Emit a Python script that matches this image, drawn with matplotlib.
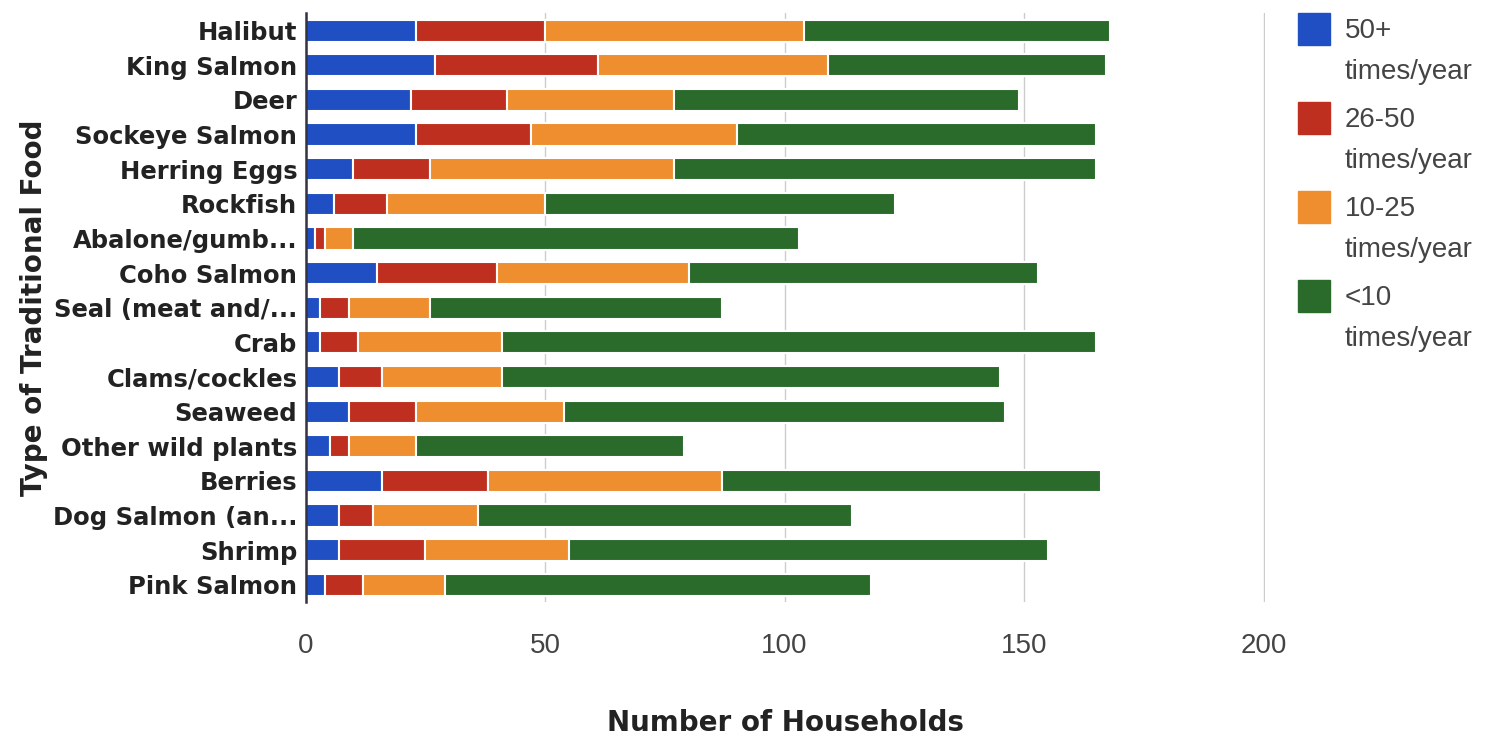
import matplotlib
matplotlib.use("Agg")
from matplotlib import pyplot as plt
from matplotlib.patches import Rectangle
import numpy as np

foods = ["Halibut", "King Salmon", "Deer", "Sockeye Salmon", "Herring Eggs", "Rockfish",
         "Abalone/gumb...", "Coho Salmon", "Seal (meat and/...", "Crab", "Clams/cockles",
         "Seaweed", "Other wild plants", "Berries", "Dog Salmon (an...", "Shrimp", "Pink Salmon"]

over_50 = [23, 27, 22, 23, 10, 6, 2, 15, 3, 3, 7, 9, 5, 16, 7, 7, 4]
from_26_50 = [27, 34, 20, 24, 16, 11, 2, 25, 6, 8, 9, 14, 4, 22, 7, 18, 8]
from_10_25 = [54, 48, 35, 43, 51, 33, 6, 40, 17, 30, 25, 31, 14, 49, 22, 30, 17]
under_10 = [64, 58, 72, 75, 88, 73, 93, 73, 61, 124, 104, 92, 56, 79, 78, 100, 89]

series_names = ["50+\ntimes/year", "26-50\ntimes/year", "10-25\ntimes/year", "<10\ntimes/year"]
series_colors = ["#1f4fc2", "#bf2f1f", "#ee8e2e", "#2a6a2b"]

x_ticks = [0, 50, 100, 150, 200]


def main():
    fig = plt.figure(figsize=(14.98, 7.37), dpi=100)
    ax = fig.add_axes([0.204, 0.183, 0.8445 - 0.204, 0.799])

    y = np.arange(len(foods))
    left = np.zeros(len(foods))
    for values, name, color in zip([over_50, from_26_50, from_10_25, under_10], series_names, series_colors):
        ax.barh(y, values, left=left, height=0.64, color=color, edgecolor="white",
                linewidth=1.5, label=name, zorder=3)
        left += np.array(values)

    ax.set_ylim(len(foods) - 0.5, -0.5)
    ax.set_xlim(0, 200.3)
    ax.set_xticks(x_ticks)
    ax.set_xticklabels([str(t) for t in x_ticks], fontsize=20, color="#444444",
                       family="Liberation Sans")
    ax.set_yticks(y)
    ax.set_yticklabels(foods, fontsize=17.5, fontweight="heavy", color="#222222")
    ax.tick_params(axis="both", length=0)
    ax.tick_params(axis="x", pad=22)
    ax.tick_params(axis="y", pad=6)

    ax.grid(axis="x", color="#cccccc", linewidth=1, zorder=0)
    for side in ["top", "right", "bottom"]:
        ax.spines[side].set_visible(False)
    ax.spines["left"].set_color("#333344")
    ax.spines["left"].set_linewidth(1.8)
    ax.spines["left"].set_zorder(4)

    ax.set_xlabel("Number of Households", fontsize=20, fontweight="bold", color="#222222",
                  labelpad=36)
    fig.text(0.023, 0.582, "Type of Traditional Food", rotation=90, fontsize=20,
             fontweight="bold", color="#222222", ha="center", va="center")

    # legend drawn by hand: square aligned with the first line of each label
    W, H = fig.get_size_inches() * fig.dpi
    for i, (name, color) in enumerate(zip(series_names, series_colors)):
        top = 13 + i * 89
        fig.patches.append(Rectangle((1298 / W, 1 - (top + 32) / H), 32 / W, 32 / H,
                                     transform=fig.transFigure, color=color))
        first, second = name.split("\n")
        fig.text(1345 / W, 1 - (top + 18) / H, first, fontsize=20, color="#444444",
                 family="Liberation Sans", va="center")
        fig.text(1345 / W, 1 - (top + 59) / H, second, fontsize=20, color="#444444",
                 family="Liberation Sans", va="center")

    fig.savefig("out.png", dpi=100)


if __name__ == "__main__":
    main()
